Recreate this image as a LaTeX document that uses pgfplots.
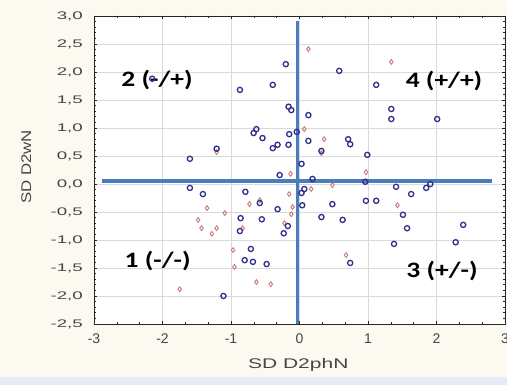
\documentclass[border=0pt]{standalone}
\usepackage{fontspec}
\setmainfont{Liberation Sans}
\newfontfamily\calibri{Carlito}
\usepackage{graphicx}
\usepackage{pgfplots}
\usepackage{pgfplotstable}
\pgfplotsset{compat=1.18}
\definecolor{bgcream}{RGB}{252,249,240}
\definecolor{bandblue}{RGB}{229,236,245}
\definecolor{navy}{RGB}{48,48,140}
\definecolor{rose}{RGB}{205,120,120}
\definecolor{xlblue}{RGB}{74,126,187}
\definecolor{gridgray}{RGB}{218,218,218}
\definecolor{txtgray}{RGB}{70,70,70}

\pgfplotstableread{
x y
-2.15 1.88
-0.87 1.68
-0.20 2.14
0.58 2.02
-0.39 1.77
1.12 1.77
-0.16 1.38
-0.12 1.32
0.13 1.23
1.34 1.34
1.34 1.16
2.01 1.16
-0.63 0.98
-0.67 0.91
-0.54 0.82
-0.15 0.89
-0.04 0.93
0.13 0.77
0.71 0.80
0.74 0.71
-0.32 0.70
-0.39 0.64
-0.16 0.70
0.32 0.59
0.99 0.52
0.03 0.36
-0.29 0.16
0.19 0.09
-1.21 0.63
-1.60 0.45
-1.60 -0.07
-1.41 -0.18
-0.79 -0.14
0.96 0.04
1.41 -0.05
1.63 -0.18
1.85 -0.07
1.91 0.00
0.03 -0.16
0.07 -0.09
0.04 -0.38
0.48 -0.36
0.32 -0.59
0.63 -0.64
0.97 -0.30
1.12 -0.30
1.51 -0.55
1.57 -0.79
2.39 -0.73
2.28 -1.04
1.38 -1.07
0.74 -1.41
-0.58 -0.34
-0.32 -0.45
-0.86 -0.61
-0.55 -0.63
-0.87 -0.84
-0.17 -0.75
-0.23 -0.88
-0.71 -1.16
-0.80 -1.36
-0.68 -1.39
-0.48 -1.43
-1.11 -2.00
}\bluedata

\pgfplotstableread{
x y
0.13 2.41
1.34 2.18
0.07 0.98
0.36 0.80
0.32 0.55
-1.21 0.57
0.97 0.21
-0.13 0.18
0.48 -0.02
0.17 -0.09
-0.15 -0.18
-0.58 -0.29
-0.73 -0.36
-1.35 -0.43
-1.09 -0.52
-0.10 -0.41
-0.12 -0.54
-1.48 -0.64
-1.43 -0.79
-1.21 -0.79
-1.28 -0.89
-0.83 -0.79
-0.22 -0.70
1.43 -0.38
-0.97 -1.18
-0.95 -1.48
-0.63 -1.75
-0.42 -1.79
-1.75 -1.88
0.68 -1.27
}\reddata

\begin{document}
\begin{tikzpicture}[x=1pt,y=1pt]
\useasboundingbox (0,0) rectangle (507,385);
\fill[bgcream] (0,0) rectangle (507,385);
\fill[bandblue] (0,0) rectangle (507,8);
\begin{axis}[
  at={(94pt,61pt)}, anchor=south west, scale only axis,
  width=411pt, height=308pt,
  xmin=-3, xmax=3, ymin=-2.5, ymax=3,
  xtick={-3,-2,-1,0,1,2,3}, ytick={-2.5,-2,-1.5,-1,-0.5,0,0.5,1,1.5,2,2.5,3},
  minor x tick num=2, minor y tick num=4,
  grid=major, major grid style={gridgray, line width=0.8pt},
  axis background/.style={fill=white},
  axis line style={black!85, line width=0.8pt},
  tick style={black!85, line width=0.6pt},
  major tick length=3pt, minor tick length=2pt,
  /pgf/number format/assume math mode=true,
  xticklabel style={font=\fontsize{14}{14}\selectfont, text=txtgray, inner sep=0pt, anchor=north, yshift=-10pt},
  yticklabel style={font=\fontsize{11}{11}\selectfont, text=txtgray, inner sep=0pt, anchor=east, xshift=-11pt},
  xticklabel={\pgfmathprintnumber{\tick}},
  yticklabel={\scalebox{1.7}[1]{\pgfmathprintnumber[fixed,fixed zerofill,precision=1,use comma]{\tick}}},
  xlabel={\scalebox{1.5}[1]{SD D2phN}},
  ylabel={\scalebox{1.2}[1]{SD D2wN}},
  xlabel style={font=\fontsize{14}{14}\selectfont, text=txtgray, at={(axis description cs:0.497,-0.133)}, anchor=center},
  ylabel style={font=\fontsize{14}{14}\selectfont, text=txtgray, at={(axis description cs:-0.165,0.51)}, anchor=center},
  clip=false,
]
\addplot[only marks, mark=diamond, mark size=2.4pt, mark options={rose, line width=0.9pt}] table[x=x,y=y] {\reddata};
\addplot[only marks, mark=o, mark size=2.6pt, mark options={navy, line width=1.3pt}] table[x=x,y=y] {\bluedata};
\addplot[xlblue, line width=3.5pt] coordinates {(-0.03,-2.5) (-0.03,2.91)};
\addplot[xlblue, line width=3.5pt] coordinates {(-2.89,0.05) (2.81,0.05)};
\node[font=\calibri\bfseries\fontsize{22}{22}\selectfont] at (axis cs:-2.08,1.86) {\scalebox{1.25}[1]{2 (-/+)}};
\node[font=\calibri\bfseries\fontsize{22}{22}\selectfont] at (axis cs:2.11,1.84) {\scalebox{1.25}[1]{4 (+/+)}};
\node[font=\calibri\bfseries\fontsize{22}{22}\selectfont] at (axis cs:-2.07,-1.38) {\scalebox{1.25}[1]{1 (-/-)}};
\node[font=\calibri\bfseries\fontsize{22}{22}\selectfont] at (axis cs:2.08,-1.55) {\scalebox{1.25}[1]{3 (+/-)}};
\end{axis}
\end{tikzpicture}
\end{document}
